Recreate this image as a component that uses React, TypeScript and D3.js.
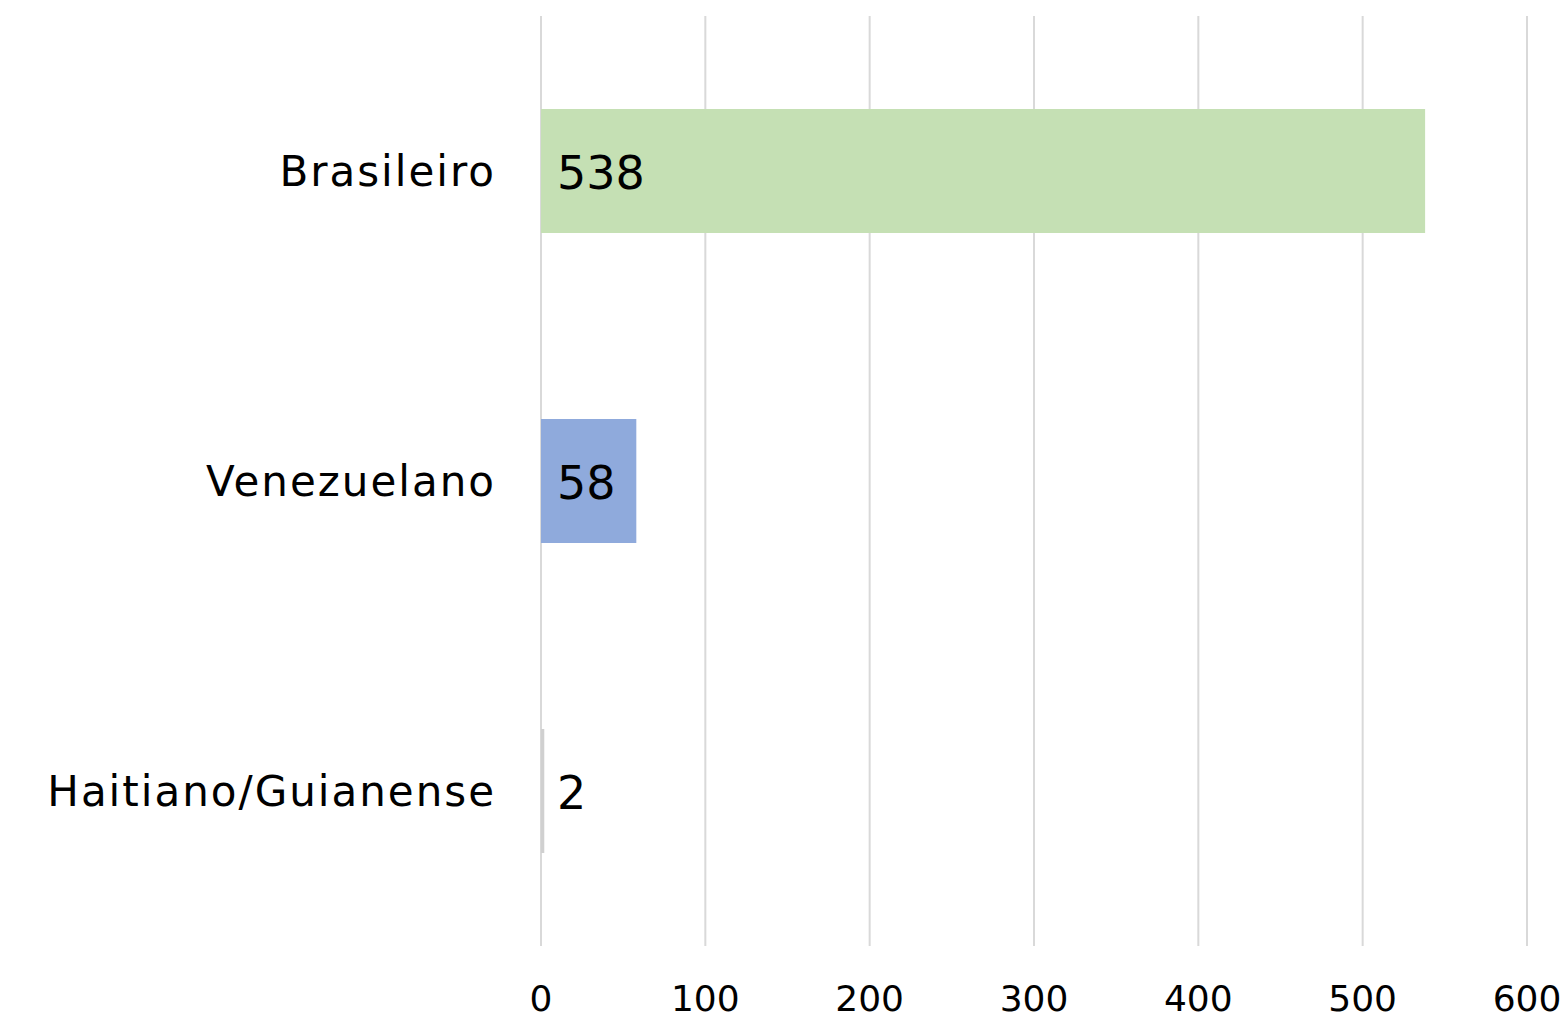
import * as d3 from "d3";
import { useEffect, useRef } from "react";

const categories = ["Brasileiro", "Venezuelano", "Haitiano/Guianense"];
const values = [538, 58, 2];
const barColors = ["#c5e0b4", "#8faadc", "#d0d0d0"];
const ticks = [0, 100, 200, 300, 400, 500, 600];

const width = 1563;
const height = 1020;
const marginLeft = 541;
const marginRight = 36;
const marginTop = 16;
const marginBottom = 74;
const font = "'DejaVu Sans', Lato, sans-serif";

export default function App() {
  const ref = useRef<SVGSVGElement>(null);

  useEffect(() => {
    const svg = d3.select(ref.current);
    svg.selectAll("*").remove();

    const x = d3
      .scaleLinear()
      .domain([0, 600])
      .range([marginLeft, width - marginRight]);
    const y = d3
      .scaleBand()
      .domain(categories)
      .range([marginTop, height - marginBottom])
      .paddingInner(0.6)
      .paddingOuter(0.3);

    // grid lines
    svg
      .append("g")
      .selectAll("line")
      .data(ticks)
      .join("line")
      .attr("x1", (d) => x(d))
      .attr("x2", (d) => x(d))
      .attr("y1", marginTop)
      .attr("y2", height - marginBottom)
      .attr("stroke", "#d9d9d9")
      .attr("stroke-width", 2);

    // bars
    svg
      .append("g")
      .selectAll("rect")
      .data(values)
      .join("rect")
      .attr("x", x(0))
      .attr("y", (d, i) => y(categories[i])!)
      .attr("width", (d) => x(d) - x(0))
      .attr("height", y.bandwidth())
      .attr("fill", (d, i) => barColors[i]);

    // data labels
    svg
      .append("g")
      .selectAll("text")
      .data(values)
      .join("text")
      .attr("x", x(0) + 16)
      .attr("y", (d, i) => y(categories[i])! + y.bandwidth() / 2)
      .attr("dy", "0.4em")
      .attr("font-family", font)
      .attr("font-size", 46)
      .attr("fill", "#000")
      .text((d) => d);

    // category labels
    svg
      .append("g")
      .selectAll("text")
      .data(categories)
      .join("text")
      .attr("x", marginLeft - 45)
      .attr("y", (d) => y(d)! + y.bandwidth() / 2)
      .attr("dy", "0.36em")
      .attr("text-anchor", "end")
      .attr("font-family", font)
      .attr("font-size", 42)
      .attr("letter-spacing", 2)
      .attr("fill", "#000")
      .text((d) => d);

    // tick labels
    svg
      .append("g")
      .selectAll("text")
      .data(ticks)
      .join("text")
      .attr("x", (d) => x(d))
      .attr("y", 1011)
      .attr("text-anchor", "middle")
      .attr("font-family", font)
      .attr("font-size", 36)
      .attr("fill", "#000")
      .text((d) => d);
  }, []);

  return (
    <svg
      ref={ref}
      width={width}
      height={height}
      style={{ position: "absolute", left: 0, top: 0, background: "#fff" }}
    />
  );
}
